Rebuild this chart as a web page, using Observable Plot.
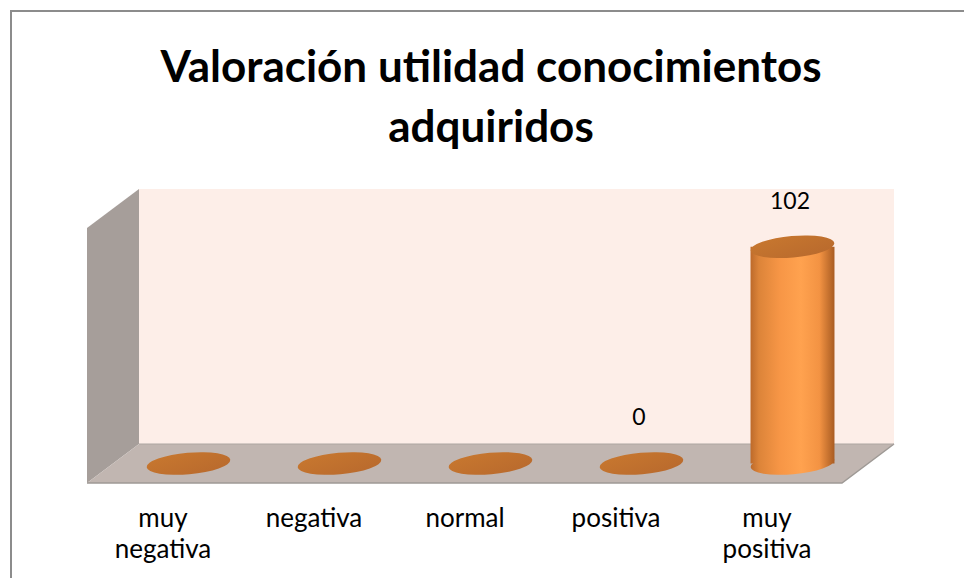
<!DOCTYPE html>
<html><head><meta charset="utf-8">
<script src="https://cdn.jsdelivr.net/npm/d3@7"></script>
<script src="https://cdn.jsdelivr.net/npm/@observablehq/plot@0.6"></script>
<style>
body{margin:0;background:#fff;}
#wrap{position:relative;width:964px;height:578px;overflow:hidden;}
#frame{position:absolute;left:10px;top:10px;width:1200px;height:1200px;border-top:2px solid #8c8c8c;border-left:2px solid #8c8c8c;box-sizing:border-box;}
#chart{position:absolute;left:0;top:0;}
</style></head><body>
<div id="wrap"><div id="frame"></div><div id="chart"></div></div>
<script>
// ---- data ----
const titleLines = ["Valoración utilidad conocimientos", "adquiridos"];
const categories = ["muy negativa", "negativa", "normal", "positiva", "muy positiva"];
const tickLabels = ["muy\nnegativa", "negativa", "normal", "positiva", "muy\npositiva"];
const values = [0, 0, 0, 0, 102];
const valueLabels = [null, null, null, "0", "102"];
const yDomain = [0, 120];

// ---- styling constants ----
const DX = 26, DY = 19.5;          // half-depth offset of the 3D box
const FONT = "Lato, 'Open Sans', sans-serif";
const rows = categories.map((c, i) => ({cat: c, tick: tickLabels[i], value: values[i], label: valueLabels[i]}));

const bw = (s) => typeof s.bandwidth === "function" ? s.bandwidth() : s.bandwidth;

function walls(index, {x, y}, values, dim) {
  const x0 = dim.marginLeft, x1 = dim.width - dim.marginRight;
  const yTop = y(yDomain[1]), yBase = y(yDomain[0]);
  const g = d3.create("svg:g");
  g.append("rect").attr("x", x0 + DX).attr("y", yTop - DY).attr("width", x1 - x0).attr("height", yBase - yTop)
    .attr("fill", "#FDEEE8");
  g.append("path")
    .attr("d", `M${x0 - DX},${yTop + DY}L${x0 + DX},${yTop - DY}L${x0 + DX},${yBase - DY}L${x0 - DX},${yBase + DY}Z`)
    .attr("fill", "#A69E9A");
  g.append("path")
    .attr("d", `M${x0 + DX},${yBase - DY}L${x1 + DX},${yBase - DY}L${x1 - DX},${yBase + DY}L${x0 - DX},${yBase + DY}Z`)
    .attr("fill", "#C1B6B1");
  g.append("path")
    .attr("d", `M${x0 - DX},${yBase + DY}L${x1 - DX},${yBase + DY}L${x1 + DX},${yBase - DY}`)
    .attr("fill", "none").attr("stroke", "#9E9995").attr("stroke-width", 1.5);
  g.append("path")
    .attr("d", `M${x0 + DX},${yBase - DY}L${x1 + DX},${yBase - DY}`)
    .attr("fill", "none").attr("stroke", "#ADA6A2").attr("stroke-width", 1);
  return g.node();
}

function cylinders(index, {x, y}) {
  const g = d3.create("svg:g");
  const defs = g.append("defs");
  const body = defs.append("linearGradient").attr("id", "cylBody").attr("x1", 0).attr("x2", 1).attr("y1", 0).attr("y2", 0);
  [[0, "#BD6A2B"], [0.1, "#DC8439"], [0.35, "#F79646"], [0.6, "#FFA24F"], [0.82, "#F39343"], [1, "#A95C22"]]
    .forEach(([o, c]) => body.append("stop").attr("offset", o).attr("stop-color", c));
  const top = defs.append("linearGradient").attr("id", "cylTop").attr("x1", 0).attr("x2", 1).attr("y1", 0).attr("y2", 1);
  [[0, "#C8782F"], [1, "#B8692D"]].forEach(([o, c]) => top.append("stop").attr("offset", o).attr("stop-color", c));
  const w = bw(x);
  const rx = w * 0.278, ry = 10.8, tilt = -5;
  rows.forEach((d) => {
    const cx = x(d.cat) + w / 2;
    const yb = y(0), yt = y(d.value);
    if (d.value > 0) {
      g.append("ellipse").attr("cx", cx).attr("cy", yb).attr("rx", rx).attr("ry", ry)
        .attr("transform", `rotate(${tilt},${cx},${yb})`).attr("fill", "url(#cylBody)");
      g.append("rect").attr("x", cx - rx).attr("y", yt).attr("width", 2 * rx).attr("height", yb - yt)
        .attr("fill", "url(#cylBody)");
    }
    g.append("ellipse").attr("cx", cx).attr("cy", yt).attr("rx", rx).attr("ry", ry)
      .attr("transform", `rotate(${tilt},${cx},${yt})`).attr("fill", "url(#cylTop)");
  });
  return g.node();
}

const chart = Plot.plot({
  width: 964,
  height: 578,
  marginLeft: 113,
  marginRight: 96,
  marginTop: 208.5,
  marginBottom: 114.5,
  style: {background: "transparent", fontFamily: FONT, overflow: "visible"},
  x: {type: "band", domain: categories, padding: 0, axis: null},
  y: {domain: yDomain, axis: null},
  marks: [
    walls,
    cylinders,
    Plot.text(rows.filter(d => d.label != null), {
      x: "cat", y: "value", text: "label", dy: -46, dx: -3,
      fontSize: 23, fill: "#000", fontFamily: FONT
    }),
    Plot.text(rows, {
      x: "cat", y: () => 0, text: "tick", dx: -DX, dy: 41,
      lineAnchor: "top", lineHeight: 1.2, fontSize: 26, fill: "#000", fontFamily: FONT
    }),
    Plot.text([titleLines.join("\n")], {
      frameAnchor: "top", lineAnchor: "top", dy: -169, dx: 0,
      lineHeight: 1.35, fontSize: 44, fontWeight: "bold", fill: "#000", fontFamily: FONT
    })
  ]
});
document.getElementById("chart").append(chart);
</script>
</body></html>
